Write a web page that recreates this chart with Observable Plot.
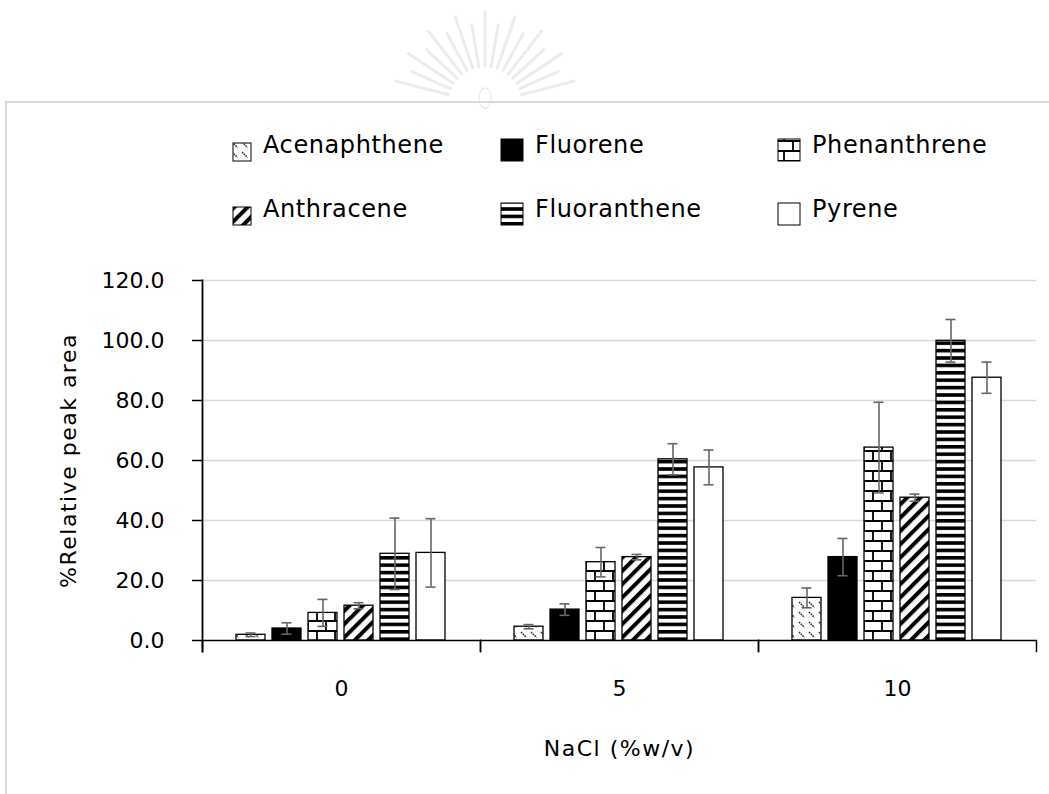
<!DOCTYPE html>
<html><head><meta charset="utf-8">
<script src="https://cdn.jsdelivr.net/npm/d3@7"></script>
<script src="https://cdn.jsdelivr.net/npm/@observablehq/plot@0.6"></script>
<style>
body{margin:0;background:#fff;font-family:"DejaVu Sans",sans-serif;}
#page{position:relative;width:1049px;height:794px;overflow:hidden;background:#fff;}
#border{position:absolute;left:5px;top:101px;width:1100px;height:800px;border:2px solid #d9d9d9;box-sizing:border-box;}
#chart{position:absolute;left:0;top:260px;}
#legend{position:absolute;left:0;top:0;}
</style></head>
<body><div id="page">
<svg width="0" height="0" style="position:absolute"><defs id="defs"></defs></svg>
<svg id="legend" width="1049" height="260"></svg>
<div id="border"></div>
<div id="chart"></div>
</div>
<script>
// ---- data ----
const groups = ["0", "5", "10"];
const compounds = ["Acenaphthene", "Fluorene", "Phenanthrene", "Anthracene", "Fluoranthene", "Pyrene"];
const acenaphthene = [1.9, 4.6, 14.2];
const fluorene = [4.0, 10.3, 27.8];
const phenanthrene = [9.2, 26.1, 64.3];
const anthracene = [11.6, 27.8, 47.6];
const fluoranthene = [28.9, 60.4, 99.9];
const pyrene = [29.2, 57.7, 87.6];
const acenaphtheneErr = [0.6, 0.7, 3.3];
const fluoreneErr = [1.9, 1.9, 6.2];
const phenanthreneErr = [4.5, 4.9, 15.1];
const anthraceneErr = [1.0, 0.9, 1.2];
const fluorantheneErr = [11.9, 5.2, 7.1];
const pyreneErr = [11.4, 5.8, 5.2];
const yTicks = [0, 20, 40, 60, 80, 100, 120];
const fills = ["url(#p-acen)", "#000", "url(#p-brick)", "url(#p-diag)", "url(#p-horiz)", "#fff"];

const means = [acenaphthene, fluorene, phenanthrene, anthracene, fluoranthene, pyrene];
const errs = [acenaphtheneErr, fluoreneErr, phenanthreneErr, anthraceneErr, fluorantheneErr, pyreneErr];
const rows = compounds.flatMap((c, ci) => groups.map((g, gi) => ({
  group: g, compound: c, value: means[ci][gi], err: errs[ci][gi], fill: fills[ci]
})));

// ---- patterns ----
const defs = d3.select("#defs");
function pat(id, w, h, tr) {
  const p = defs.append("pattern").attr("id", id).attr("patternUnits", "userSpaceOnUse")
    .attr("width", w).attr("height", h);
  if (tr) p.attr("patternTransform", tr);
  p.append("rect").attr("width", w).attr("height", h).attr("fill", "#fff");
  return p;
}
pat("p-acen", 10, 10).append("path").attr("d", "M2,2L7.5,7.5")
  .attr("stroke", "#333").attr("stroke-width", 1.6).attr("stroke-dasharray", "1.6,0.9");
pat("p-brick", 18, 20).append("path").attr("d", "M0,1H18M0,11H18M1,1V11M10,11V20M10,0V1")
  .attr("stroke", "#000").attr("stroke-width", 1.8).attr("fill", "none");
pat("p-diag", 9.4, 9.4, "rotate(45)").append("rect").attr("width", 4).attr("height", 9.4).attr("fill", "#000");
pat("p-horiz", 10, 7.4).append("rect").attr("width", 10).attr("height", 3.6).attr("fill", "#000");

// ---- faint watermark (decoration) ----
const leg = d3.select("#legend");
const wm = leg.append("g").attr("transform", "translate(485,104)").attr("fill", "none")
  .attr("stroke", "#ececec").attr("stroke-width", 3).attr("stroke-linecap", "round");
d3.range(17).forEach(k => {
  const a = Math.PI * (1.08 + k * 0.84 / 16);
  wm.append("line").attr("x1", 38 * Math.cos(a)).attr("y1", 38 * Math.sin(a))
    .attr("x2", (k % 2 ? 80 : 92) * Math.cos(a)).attr("y2", (k % 2 ? 80 : 92) * Math.sin(a));
});
wm.append("ellipse").attr("cx", 0).attr("cy", -6).attr("rx", 6).attr("ry", 10).attr("stroke-width", 1.5);

// ---- legend ----
const colText = [263, 535, 812];
const rowBase = [153, 217];
compounds.forEach((c, i) => {
  const col = i % 3, row = Math.floor(i / 3);
  const s = (col === 0) ? 18 : 22;
  leg.append("rect").attr("x", colText[col] - 12 - s).attr("y", rowBase[row] + 8 - s)
    .attr("width", s).attr("height", s).attr("fill", fills[i]).attr("stroke", "#000").attr("stroke-width", 1);
  leg.append("text").attr("x", colText[col]).attr("y", rowBase[row]).text(c)
    .attr("font-family", "DejaVu Sans").attr("font-size", 24).attr("letter-spacing", 0.6).attr("fill", "#000");
});

// ---- chart ----
const chart = Plot.plot({
  width: 1049, height: 534,
  marginLeft: 201, marginRight: 13, marginTop: 20, marginBottom: 154,
  style: {fontFamily: "DejaVu Sans", fontSize: "22px", color: "#000", background: "transparent", overflow: "visible"},
  fx: {domain: groups, padding: 0, label: "NaCl (%w/v)"},
  x: {domain: compounds, paddingInner: 0.19, paddingOuter: 0.855, axis: null},
  y: {domain: [0, 120], label: "%Relative peak area"},
  color: {type: "identity"},
  marks: [
    Plot.gridY(yTicks.slice(1), {stroke: "#d9d9d9", strokeOpacity: 1, strokeWidth: 1.5}),
    Plot.barY(rows, {fx: "group", x: "compound", y: "value", fill: "fill", stroke: "#000", strokeWidth: 1.3}),
    Plot.ruleX(rows, {fx: "group", x: "compound", y1: d => d.value - d.err, y2: d => d.value + d.err, stroke: "#666", strokeWidth: 1.6}),
    Plot.tickY(rows, {fx: "group", x: "compound", y: d => d.value + d.err, stroke: "#666", strokeWidth: 1.6, insetLeft: 9.5, insetRight: 9.5}),
    Plot.tickY(rows, {fx: "group", x: "compound", y: d => d.value - d.err, stroke: "#666", strokeWidth: 1.6, insetLeft: 9.5, insetRight: 9.5}),
    Plot.ruleY([0], {stroke: "#000", strokeWidth: 1.5}),
    Plot.frame({anchor: "left", insetTop: 360, insetBottom: -11, stroke: "#000", strokeWidth: 1.5}),
    Plot.frame({anchor: "right", insetTop: 360, insetBottom: -11, stroke: "#000", strokeWidth: 1.5}),
    Plot.frame({anchor: "left", facet: "super", insetBottom: -11, stroke: "#000", strokeWidth: 1.8}),
    Plot.axisY(yTicks, {tickSize: 10, tickPadding: 28, tickFormat: d3.format(".1f"), strokeWidth: 1.5,
      label: "%Relative peak area", labelAnchor: "center", labelOffset: 142, labelArrow: "none"}),
    Plot.axisFx({anchor: "bottom", tickSize: 0, tickPadding: 40, label: "NaCl (%w/v)", labelAnchor: "center", labelOffset: 115, labelArrow: "none"})
  ]
});
document.getElementById("chart").appendChild(chart);
d3.select(chart).selectAll('g[aria-label="y-axis label"] text, g[aria-label="fx-axis label"] text')
  .attr("letter-spacing", 1.5);
</script>
</body></html>
